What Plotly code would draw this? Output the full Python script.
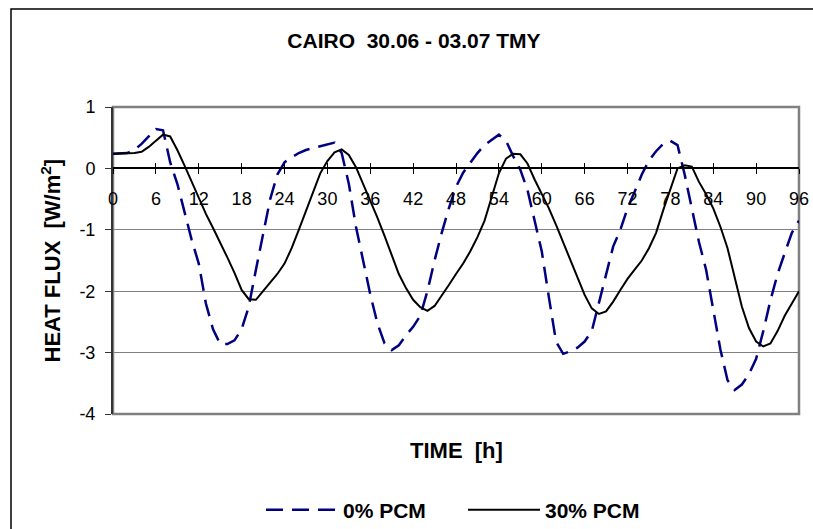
import plotly.graph_objects as go

# ---- data ----
HOURS = list(range(0, 97))

PCM_0 = [0.24, 0.24, 0.25, 0.30, 0.40, 0.52, 0.64, 0.62, 0.10, -0.25,
         -0.70, -1.16, -1.55, -2.20, -2.62, -2.86, -2.86, -2.80, -2.62, -2.25,
         -1.65, -1.05, -0.50, -0.10, 0.10, 0.18, 0.25, 0.30, 0.33, 0.36,
         0.39, 0.42, 0.25, -0.25, -0.95, -1.49, -2.05, -2.52, -2.85, -2.96,
         -2.88, -2.72, -2.58, -2.40, -2.00, -1.50, -1.05, -0.65, -0.30, -0.07,
         0.10, 0.25, 0.38, 0.47, 0.55, 0.45, 0.20, -0.02, -0.35, -0.85,
         -1.35, -2.10, -2.82, -3.02, -2.98, -2.92, -2.82, -2.65, -2.20, -1.72,
         -1.27, -1.00, -0.65, -0.38, -0.10, 0.13, 0.28, 0.40, 0.45, 0.38,
         -0.10, -0.65, -1.20, -1.65, -2.30, -2.95, -3.45, -3.61, -3.52, -3.35,
         -3.10, -2.65, -2.15, -1.72, -1.38, -1.05, -0.85]

PCM_30 = [0.24, 0.24, 0.24, 0.25, 0.27, 0.35, 0.45, 0.55, 0.52, 0.30,
          0.05, -0.22, -0.48, -0.74, -0.97, -1.20, -1.45, -1.70, -1.98, -2.13,
          -2.14, -2.00, -1.85, -1.72, -1.55, -1.30, -1.00, -0.70, -0.40, -0.08,
          0.12, 0.26, 0.31, 0.22, 0.02, -0.25, -0.50, -0.80, -1.10, -1.40,
          -1.72, -1.95, -2.14, -2.26, -2.32, -2.24, -2.08, -1.90, -1.72, -1.55,
          -1.35, -1.12, -0.85, -0.48, -0.08, 0.16, 0.24, 0.23, 0.08, -0.18,
          -0.42, -0.65, -0.92, -1.20, -1.50, -1.78, -2.06, -2.28, -2.37, -2.33,
          -2.17, -1.98, -1.80, -1.65, -1.50, -1.30, -1.05, -0.68, -0.32, 0.00,
          0.05, 0.03, -0.22, -0.42, -0.65, -0.95, -1.30, -1.78, -2.25, -2.60,
          -2.82, -2.90, -2.85, -2.65, -2.40, -2.20, -2.00]

X_TICKS = list(range(0, 97, 6))
Y_TICKS = [1, 0, -1, -2, -3, -4]
Y_TICK_LABELS = ["1", "0", "-1", "-2", "-3", "-4"]

TITLE = "CAIRO\u00a0\u00a030.06 - 03.07 TMY"
X_TITLE = "TIME\u00a0\u00a0[h]"
Y_TITLE = "HEAT FLUX\u00a0\u00a0[W/m<sup>2</sup>]"

FONT = "Liberation Sans, Arial, sans-serif"

fig = go.Figure()
fig.add_trace(go.Scatter(x=HOURS, y=PCM_0, mode="lines", name="0% PCM",
                         line=dict(color="#000080", width=2.5, dash="17px,9px")))
fig.add_trace(go.Scatter(x=HOURS, y=PCM_30, mode="lines", name="30% PCM",
                         line=dict(color="#000000", width=2)))
# empty helper trace so the upper tick marks of the crossing x-axis are drawn
fig.add_trace(go.Scatter(x=[], y=[], xaxis="x2", yaxis="y", showlegend=False,
                         hoverinfo="skip"))

fig.update_layout(
    width=813, height=529,
    margin=dict(l=113, r=14, t=107, b=115, autoexpand=False),
    paper_bgcolor="white", plot_bgcolor="white",
    font=dict(family=FONT, color="black"),
    title=dict(text=TITLE, x=414 / 813, xanchor="center",
               y=1 - 41 / 529, yanchor="middle",
               font=dict(size=21, family=FONT, color="black", weight="bold")),
    showlegend=True,
    legend=dict(orientation="h", x=(261 - 113) / 686, xanchor="left",
                y=-(510 - 414) / 307, yanchor="middle",
                font=dict(size=21, family=FONT, color="black", weight="bold"),
                itemwidth=72, entrywidth=115, entrywidthmode="pixels",
                tracegroupgap=0, bgcolor="rgba(0,0,0,0)"),
    xaxis=dict(range=[0, 96], tickvals=X_TICKS, anchor="free", position=0.8,
               showline=True, linecolor="black", linewidth=1.5,
               ticks="outside", ticklen=5, tickwidth=1, tickcolor="black",
               ticklabelstandoff=9,
               tickfont=dict(size=18, family=FONT, color="black"),
               showgrid=False, zeroline=False),
    xaxis2=dict(range=[0, 96], tickvals=X_TICKS, anchor="free", position=0.8,
                overlaying="x", showline=False, showticklabels=False,
                ticks="inside", ticklen=5, tickwidth=1, tickcolor="black",
                showgrid=False, zeroline=False),
    yaxis=dict(range=[-4, 1], tickvals=Y_TICKS, ticktext=Y_TICK_LABELS,
               showline=True, linecolor="#333333", linewidth=2,
               ticks="outside", ticklen=6, tickcolor="#333333",
               ticklabelstandoff=6,
               tickfont=dict(size=18, family=FONT, color="black"),
               showgrid=True, gridcolor="#808080", gridwidth=1.3,
               zeroline=False),
)

# x-axis title
fig.add_annotation(text=X_TITLE, xref="paper", yref="paper",
                   x=0.5, y=-(450 - 414) / 307, xanchor="center", yanchor="middle",
                   showarrow=False,
                   font=dict(size=22, family=FONT, color="black", weight="bold"))
# y-axis title
fig.add_annotation(text=Y_TITLE, xref="paper", yref="paper",
                   x=(50 - 113) / 686, y=0.5, xanchor="center", yanchor="middle",
                   textangle=-90, showarrow=False,
                   font=dict(size=22, family=FONT, color="black", weight="bold"))

# plot-area frame (gray) and outer chart border
fig.add_shape(type="rect", xref="paper", yref="paper", x0=0, x1=1, y0=0, y1=1,
              line=dict(color="#808080", width=2.5), layer="below")
fig.add_shape(type="rect", xref="paper", yref="paper",
              x0=(11 - 113) / 686, x1=(830 - 113) / 686,
              y0=-0.6, y1=1 + (107 - 9) / 307,
              line=dict(color="black", width=1.5))

fig.write_html("out.html",
               config={"displayModeBar": False},
               post_script="document.body.style.margin='0';"
                           "document.body.style.overflow='hidden';")
